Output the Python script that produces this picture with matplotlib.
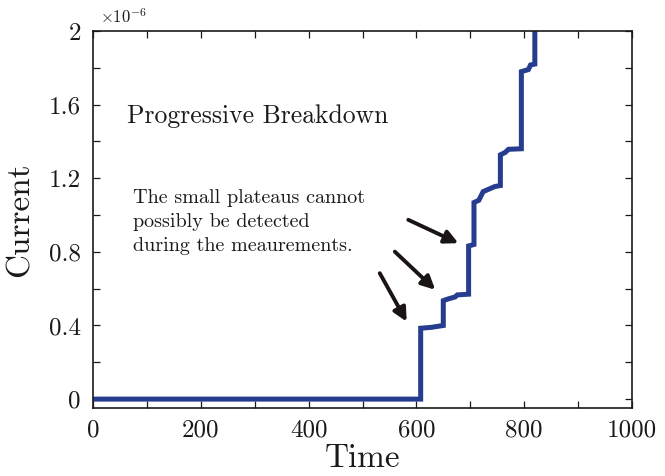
import matplotlib
matplotlib.use("Agg")
import matplotlib.pyplot as plt
from matplotlib.ticker import MultipleLocator, FuncFormatter

plt.rcParams['font.family'] = 'cmr10'
plt.rcParams['mathtext.fontset'] = 'cm'
plt.rcParams['axes.formatter.use_mathtext'] = True

# Current trace during progressive breakdown (current in units of 1e-6)
time = [0, 608, 608, 628, 650, 650, 660, 672, 676, 697, 697, 707, 707,
        716, 724, 746, 756, 756, 765, 771, 795, 795, 808, 812, 820, 820]
current_e6 = [0, 0, 0.385, 0.39, 0.40, 0.535, 0.545, 0.555, 0.566, 0.57,
              0.832, 0.84, 1.068, 1.08, 1.127, 1.155, 1.16, 1.327, 1.34,
              1.357, 1.36, 1.779, 1.79, 1.815, 1.82, 2.3]

# Arrows pointing at the small plateaus: (tail_x, tail_y, tip_x, tip_y)
arrow_tails_x = [532, 560, 585]
arrow_tails_y = [0.684, 0.801, 0.974]
arrow_tips_x = [582, 635, 678]
arrow_tips_y = [0.421, 0.594, 0.847]

ink = '#1a1a1a'
line_color = '#263c8e'

fig = plt.figure(figsize=(6.65, 4.76), dpi=100)
ax = fig.add_axes([0.1403, 0.1422, 0.8097, 0.7928])

ax.plot(time, current_e6, color=line_color, lw=3.6, solid_joinstyle='miter')

ax.set_xlim(0, 1000)
ax.set_ylim(-0.05, 2)
ax.xaxis.set_major_locator(MultipleLocator(200))
ax.xaxis.set_minor_locator(MultipleLocator(100))
ax.yaxis.set_major_locator(MultipleLocator(0.4))
ax.yaxis.set_minor_locator(MultipleLocator(0.2))
fmt = FuncFormatter(lambda v, p: f'{v:g}')
ax.xaxis.set_major_formatter(fmt)
ax.yaxis.set_major_formatter(fmt)

ax.tick_params(which='both', direction='in', top=True, right=True,
               length=5, width=0.9, color=ink, labelsize=18, labelcolor=ink)
ax.tick_params(axis='x', pad=8)
ax.tick_params(axis='y', pad=9)
for s in ax.spines.values():
    s.set_linewidth(1.2)
    s.set_color(ink)

ax.set_xlabel('Time', fontsize=24, color=ink, labelpad=2)
ax.set_ylabel('Current', fontsize=24, color=ink, labelpad=10)

ax.text(0.012, 1.012, r'$\times10^{-6}$', transform=ax.transAxes,
        fontsize=12, color=ink, ha='left', va='bottom')

ax.text(62, 1.535, 'Progressive Breakdown', fontsize=18.5, color=ink,
        ha='left', va='center')
ax.text(74, 1.14, 'The small plateaus cannot\npossibly be detected\nduring the meaurements.',
        fontsize=14.5, color=ink, ha='left', va='top', linespacing=1.42)

for tx, ty, hx, hy in zip(arrow_tails_x, arrow_tails_y, arrow_tips_x, arrow_tips_y):
    ax.annotate('', xy=(hx, hy), xytext=(tx, ty),
                arrowprops=dict(arrowstyle='-|>', lw=2.8, color='#1a1414',
                                mutation_scale=20, shrinkA=0, shrinkB=0))

fig.savefig('out.png', dpi=100)
